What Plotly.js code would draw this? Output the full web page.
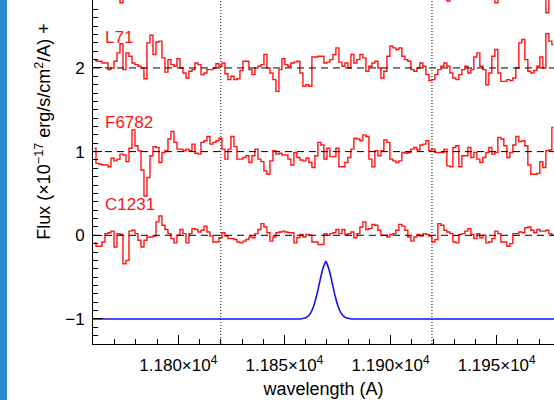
<!DOCTYPE html>
<html><head><meta charset="utf-8">
<script src="https://cdn.plot.ly/plotly-3.0.1.min.js"></script>
<style>
html,body{margin:0;padding:0;background:#fff;overflow:hidden}
#chart{width:554px;height:400px;position:absolute;left:0;top:0}
#strip{position:absolute;left:0;top:0;width:7px;height:400px;background:#2a8dcf;z-index:10}
</style></head><body>
<div id="chart"></div><div id="strip"></div>
<script>
// ---- data ----
const wavelengthStart = 11760.5;   // centre of first bin (A)
const binWidth = 1.413;            // A per bin
const spectrumNames = ['C1231', 'F6782', 'L71'];
const spectrumOffsets = [0, 1, 2, 3];

const fluxC1231 = [
 -0.09,-0.13,-0.13,-0.08,0.02,0.03,0.05,-0.14,0.02,0.01,
 -0.34,-0.30,0.05,0.06,0.02,-0.06,-0.14,-0.06,-0.02,-0.02,
 -0.01,0.16,0.23,0.12,0.07,0.02,-0.04,-0.09,0.00,0.07,
 0.02,-0.09,0.02,0.08,0.07,0.04,0.06,0.11,0.04,-0.01,
 -0.08,-0.08,-0.03,0.03,-0.01,-0.04,-0.04,-0.05,-0.08,-0.09,
 -0.07,-0.05,-0.02,-0.03,0.02,0.07,0.14,0.10,0.03,-0.07,
 -0.02,0.03,0.04,0.05,0.04,0.03,0.03,-0.09,-0.03,0.01,
 -0.02,0.01,0.00,-0.08,-0.08,-0.11,-0.11,
 0.02,0.00,0.02,0.03,0.07,0.02,0.07,0.01,0.02,0.04,
 -0.03,0.02,0.10,0.16,0.07,0.08,0.13,0.12,0.06,0.00,
 0.00,-0.02,0.01,0.02,0.06,0.13,0.11,0.06,-0.02,-0.07,
 -0.02,0.01,-0.01,0.02,0.01,-0.01,-0.08,-0.05,0.14,0.12,
 0.06,0.04,0.02,-0.08,-0.09,0.01,0.02,0.05,0.08,0.01,
 -0.04,0.02,-0.03,0.00,-0.09,-0.08,-0.04,0.05,0.02,-0.08,
 -0.08,-0.13,-0.10,0.02,0.02,0.04,0.03,0.09,0.10,0.06,
 0.03,0.07,0.05,0.05,0.06,0.02,0.00
];
const fluxF6782 = [
 0.04,-0.14,-0.15,-0.16,-0.16,-0.18,-0.08,-0.11,-0.09,-0.03,
 -0.04,-0.12,0.04,0.26,0.07,0.01,-0.22,-0.53,-0.31,-0.05,
 0.06,0.05,-0.13,-0.01,0.01,0.15,0.24,0.11,0.03,0.03,
 0.01,0.03,0.01,0.09,-0.02,-0.03,0.11,0.13,0.18,0.09,
 0.11,0.13,0.16,0.03,-0.09,0.03,0.18,0.06,-0.09,-0.09,
 -0.07,-0.05,-0.13,-0.05,0.03,-0.09,-0.12,-0.23,-0.27,-0.11,
 0.01,-0.03,-0.02,-0.04,-0.04,-0.09,-0.16,-0.01,-0.07,-0.10,
 -0.11,-0.08,-0.13,-0.19,-0.05,0.11,0.08,
 -0.09,0.04,-0.06,-0.06,0.04,-0.18,-0.18,-0.13,-0.07,0.03,
 0.16,0.15,0.13,0.20,0.18,-0.09,-0.18,0.01,-0.05,0.01,
 0.14,0.11,-0.09,-0.11,-0.13,-0.11,-0.01,-0.02,-0.01,0.03,
 0.05,0.02,0.08,0.09,0.13,0.01,0.03,-0.01,-0.01,-0.01,
 0.03,-0.17,-0.18,0.05,0.07,-0.18,-0.05,-0.05,0.05,-0.07,
 -0.01,-0.09,-0.13,-0.07,-0.01,0.05,-0.03,-0.01,0.17,0.15,
 0.07,-0.07,-0.01,0.08,0.18,0.12,0.13,0.07,-0.16,-0.27,
 -0.27,-0.26,-0.12,-0.19,0.01,0.02,0.29
];
const fluxL71 = [
 0.10,0.08,0.08,0.06,0.06,-0.02,0.00,0.08,0.18,0.29,
 -0.02,0.18,0.14,0.06,0.04,0.02,0.00,-0.13,0.30,0.39,
 0.16,0.31,0.32,0.12,-0.05,0.10,0.04,0.02,0.11,0.00,
 -0.06,-0.12,-0.04,-0.02,0.06,0.04,-0.08,-0.06,-0.02,-0.02,
 0.00,0.05,0.02,0.06,-0.07,-0.14,-0.10,-0.14,-0.13,-0.03,
 0.08,0.08,-0.02,-0.08,0.00,0.02,0.04,0.16,0.00,-0.06,
 -0.14,-0.28,-0.02,0.11,0.04,0.02,0.06,0.07,0.08,-0.06,
 -0.22,-0.20,-0.22,0.13,0.13,0.14,0.14,
 0.06,0.07,0.10,0.16,0.24,0.07,0.02,0.06,0.00,0.16,
 0.06,0.10,0.16,0.12,-0.04,0.02,0.06,0.08,0.00,-0.12,
 -0.04,0.14,0.26,0.24,0.22,0.24,0.14,0.10,0.08,-0.02,
 -0.04,0.00,0.06,0.02,-0.08,-0.15,-0.14,-0.08,-0.02,0.02,
 0.06,0.02,-0.06,-0.12,-0.14,-0.08,-0.02,0.02,-0.06,-0.02,
 0.13,0.18,0.02,-0.02,-0.20,-0.06,0.14,0.22,-0.06,-0.16,
 -0.16,-0.14,-0.15,-0.12,0.00,0.30,0.34,0.10,-0.04,-0.06,
 -0.03,0.02,0.13,0.00,0.41,0.32,0.28
];
// fourth spectrum, mostly above the visible range
const fluxTop = [
 0.10,0.12,0.08,0.10,0.14,0.10,0.06,0.10,0.05,-0.22,
 0.08,0.10,0.12,0.10,0.08,0.10,0.12,0.10,0.08,0.10,
 0.10,0.12,0.08,0.10,0.14,0.10,0.06,0.10,0.10,0.12,
 0.08,0.10,0.12,0.10,0.08,0.10,0.12,0.10,0.08,0.10,
 0.10,0.12,0.08,0.10,0.14,0.10,0.06,0.10,0.10,0.12,
 0.08,0.10,0.12,0.10,0.08,0.10,0.12,0.10,0.08,0.10,
 0.10,0.12,0.08,0.10,0.14,0.10,0.06,0.10,0.10,0.12,
 0.08,0.10,0.12,0.10,0.08,0.10,0.12,0.10,0.08,0.10,
 0.10,0.12,0.08,0.10,0.14,0.10,0.06,0.10,0.10,0.12,
 0.08,0.10,0.12,0.10,0.08,0.10,0.12,0.10,0.08,0.10,
 0.10,0.12,0.08,0.10,0.14,0.10,0.06,0.10,0.10,0.12,
 0.08,0.10,0.12,0.10,0.08,0.10,0.12,0.10,-0.20,0.10,
 0.10,0.12,0.08,0.10,0.14,0.10,0.06,0.10,0.10,0.12,
 0.08,0.10,0.12,0.10,-0.22,0.10,0.12,0.10,0.08,0.10,
 0.10,0.12,0.08,0.10,0.14,0.10,0.06,0.10,0.10,0.12,
 0.08,-0.34,0.10,0.12
];
const spectra = [fluxC1231, fluxF6782, fluxL71, fluxTop];

// model line profile (offset -1)
const modelWave = [11759.8,11850,11856,11858,11860,11861,11862,11863,11864,11865,11866,11867,11868,11869,11869.5,
  11870,11871,11872,11873,11874,11875,11876,11877,11878,11879,11881,11883,11889,11977];
const modelFlux = [-1,-1,-1.0,-0.997,-0.985,-0.970,-0.942,-0.896,-0.828,-0.737,-0.628,-0.512,-0.409,-0.336,-0.31,
  -0.336,-0.409,-0.512,-0.628,-0.737,-0.828,-0.896,-0.942,-0.970,-0.985,-0.997,-1.0,-1,-1];

const markerWaves = [11820, 11919.5];
const xTickVals = [11800, 11850, 11900, 11950];
const xTickText = ['1.180×10<sup>4</sup>','1.185×10<sup>4</sup>','1.190×10<sup>4</sup>','1.195×10<sup>4</sup>'];
const yTickVals = [-1, 0, 1, 2];
const yTickText = ['−1', '0', '1', '2'];
const labelWave = 11764.5;
const labelLevels = [0.363, 1.35, 2.358];

// ---- traces ----
const red = 'rgb(255,20,20)';
const traces = spectra.map((f, k) => ({
  type: 'scatter', mode: 'lines',
  x0: wavelengthStart, dx: binWidth,
  y: f.map(v => v + spectrumOffsets[k]),
  line: {color: red, width: 1.4, shape: 'hvh'},
  hoverinfo: 'skip'
}));
traces.push({
  type: 'scatter', mode: 'lines', x: modelWave, y: modelFlux,
  line: {color: 'rgb(20,20,235)', width: 1.6, shape: 'spline', smoothing: 0.6},
  hoverinfo: 'skip'
});

const shapes = [];
spectrumOffsets.slice(0, 3).forEach(o => shapes.push({
  type: 'line', xref: 'paper', x0: 0, x1: 1, yref: 'y', y0: o, y1: o,
  line: {color: '#000', width: 1, dash: '7px,5px'}
}));
markerWaves.forEach(w => shapes.push({
  type: 'line', xref: 'x', x0: w, x1: w, yref: 'paper', y0: 0, y1: 1,
  line: {color: '#333', width: 1.2, dash: '1px,2px'}
}));

const annotations = spectrumNames.map((n, k) => ({
  text: n, x: labelWave, y: labelLevels[k], xref: 'x', yref: 'y',
  xanchor: 'left', yanchor: 'middle', showarrow: false,
  font: {color: red, size: 17}
}));
annotations.push({
  text: 'Flux (×10<sup>−17</sup> erg/s/cm<sup>2</sup>/A) +',
  textangle: -90, xref: 'paper', yref: 'paper',
  x: (43.7 - 93) / 461, y: (344 - 242) / 344,
  xanchor: 'center', yanchor: 'bottom', showarrow: false,
  font: {size: 18, color: '#000'}
});

const axisCommon = {
  showgrid: false, zeroline: false, showline: true, linecolor: '#000', linewidth: 1,
  ticks: 'inside', ticklen: 9, tickwidth: 1, tickcolor: '#000', tickmode: 'array',
  fixedrange: true
};
const layout = {
  width: 554, height: 400,
  margin: {l: 93, r: 0, t: 0, b: 56, pad: 0},
  paper_bgcolor: '#fff', plot_bgcolor: '#fff',
  showlegend: false,
  font: {family: '"Liberation Sans", Arial, sans-serif', size: 17, color: '#000'},
  xaxis: Object.assign({}, axisCommon, {
    range: [11759.8, 11977.0], tickvals: xTickVals, ticktext: xTickText,
    ticklabelstandoff: 6,
    minor: {ticks: 'inside', ticklen: 5, dtick: 10, tick0: 11800, tickcolor: '#000', tickwidth: 1, showgrid: false},
    title: {text: 'wavelength (A)', font: {size: 18}, standoff: 7}
  }),
  yaxis: Object.assign({}, axisCommon, {
    range: [-1.299, 2.812], tickvals: yTickVals, ticktext: yTickText,
    minor: {ticks: 'inside', ticklen: 5, dtick: 0.1, tick0: 0, tickcolor: '#000', tickwidth: 1, showgrid: false},
    ticklabelstandoff: 4
  }),
  shapes: shapes,
  annotations: annotations
};
Plotly.newPlot('chart', traces, layout, {staticPlot: true, displayModeBar: false});
</script></body></html>
